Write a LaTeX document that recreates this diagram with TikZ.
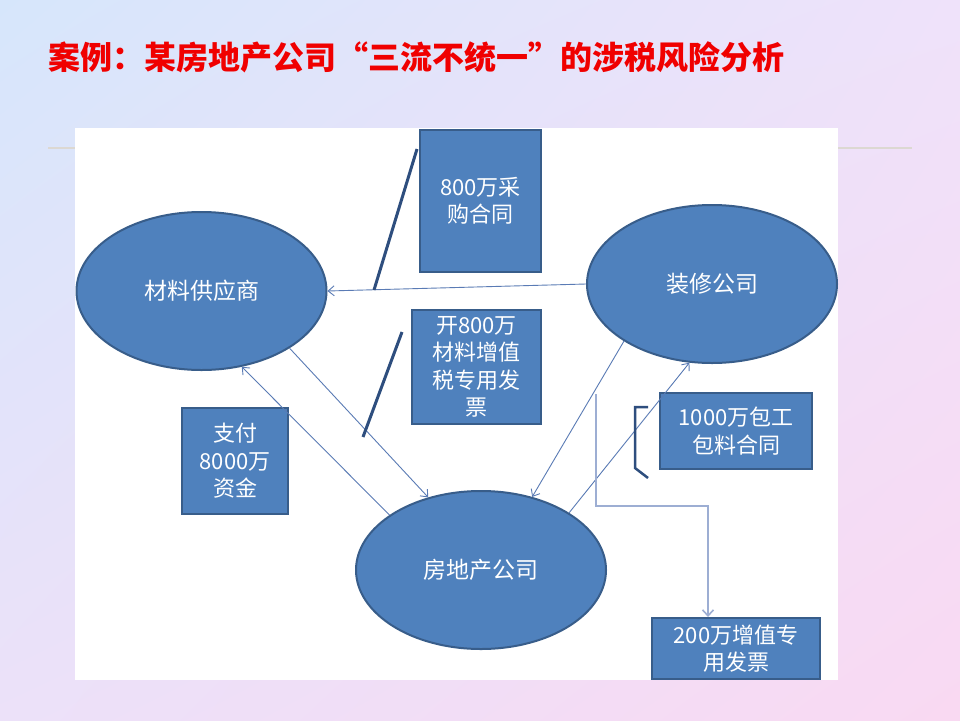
\documentclass[tikz,border=0pt]{standalone}
\usepackage{fontspec}
\setmainfont{Noto Sans CJK SC}
\usetikzlibrary{arrows.meta,shapes.geometric,calc,shadings}
\definecolor{fillb}{HTML}{4F81BD}
\definecolor{edgeb}{HTML}{385D8A}
\definecolor{callb}{HTML}{2E4E7E}
\definecolor{arrb}{HTML}{5A7BB5}
\definecolor{elbowb}{HTML}{9DAED3}
\definecolor{titlered}{HTML}{F00000}
\definecolor{bgtl}{HTML}{D6E6FB}
\definecolor{bgtr}{HTML}{EFE2FA}
\definecolor{bgbl}{HTML}{ECE1F9}
\definecolor{bgbr}{HTML}{F9D9F2}
\definecolor{rulegray}{HTML}{DCD8D2}
\tikzset{
  ell/.style={ellipse, draw=edgeb, line width=2pt, fill=fillb, text=white,
    font=\fontsize{23}{28}\selectfont, inner sep=0pt, minimum width=250pt, minimum height=158pt},
  infobox/.style={rectangle, draw=edgeb, line width=2pt, fill=fillb, text=white,
    font=\fontsize{22}{27.5}\selectfont, align=center, inner sep=0pt},
  arr/.style={draw=arrb, line width=0.9pt, -{Straight Barb[length=6pt,width=10pt]}},
  elbowarr/.style={draw=elbowb, line width=1.6pt, -{Straight Barb[length=6pt,width=11pt]}},
  callline/.style={draw=callb, line width=3pt},
}
\begin{document}
\begin{tikzpicture}[x=1pt,y=-1pt]
\useasboundingbox (0,0) rectangle (960,720);
\shade[upper left=bgtl, upper right=bgtr, lower left=bgbl, lower right=bgbr] (0,0) rectangle (960,720);
\draw[rulegray, line width=2.5pt] (48,148) -- (912,148);
\fill[white] (75,128) rectangle (838,680);

\node[anchor=west, text=titlered, font=\fontsize{32}{38}\selectfont\bfseries, inner sep=0pt] (title) at (48,57) {案例：某房地产公司“三流不统一”的涉税风险分析};

% ellipses
\node[ell] (sup) at (201.5,291) {材料供应商};
\node[ell] (deco) at (712,284) {装修公司};
\node[ell] (dev) at (481,570) {房地产公司};

% boxes
\node[infobox, minimum width=121pt, minimum height=142pt] (b1) at (480.5,201) {800万采\\购合同};
\node[infobox, minimum width=129pt, minimum height=114pt] (b2) at (476.5,367) {开800万\\材料增值\\税专用发\\票};
\node[infobox, minimum width=106pt, minimum height=106pt] (b3) at (235,461) {支付\\8000万\\资金};
\node[infobox, minimum width=152pt, minimum height=76pt] (b4) at (736,431) {1000万包工\\包料合同};
\node[infobox, minimum width=168pt, minimum height=61pt] (b5) at (736,648.5) {200万增值专\\用发票};

% arrows
\draw[arr] (deco.west) -- (sup.east);
\draw[arr] (sup.-33) -- (dev.126);
\draw[arr] (dev.149) -- (sup.-62);
\draw[arr] (deco.213) -- (dev.55);
\draw[arr] (dev.33) -- (deco.254);

% elbow connector
\coordinate (e1) at (596,394);
\coordinate (e2) at (708,506);
\draw[elbowarr] (e1) |- (e2) -- (e2 |- b5.north);

% callout lines
\coordinate (c1a) at (417,149);
\coordinate (c1b) at (374,290);
\draw[callline] (c1a) -- (c1b);
\coordinate (c2a) at (402,332);
\coordinate (c2b) at (363,437);
\draw[callline] (c2a) -- (c2b);
\coordinate (c3a) at (648,407);
\coordinate (c3b) at (635,407);
\coordinate (c3c) at (635,468);
\coordinate (c3d) at (648,478);
\draw[callline, line width=2.5pt] (c3a) -- (c3b) -- (c3c) -- (c3d);
\end{tikzpicture}
\end{document}
